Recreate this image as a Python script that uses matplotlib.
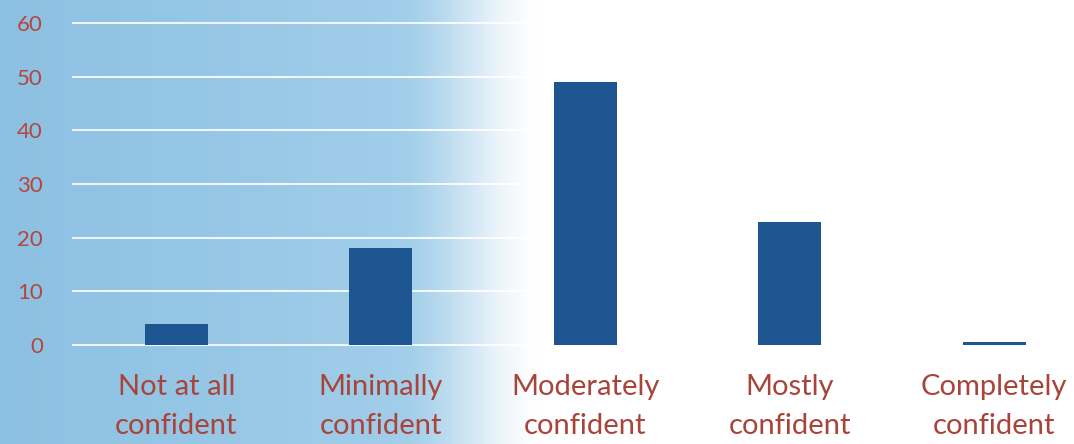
import numpy as np
import matplotlib
matplotlib.use("Agg")
import matplotlib.pyplot as plt

categories = ["Not at all\nconfident", "Minimally\nconfident", "Moderately\nconfident",
              "Mostly\nconfident", "Completely\nconfident"]
values = [4, 18, 49, 23, 0.6]
yticks = [0, 10, 20, 30, 40, 50, 60]

W, H = 1074, 444
fig = plt.figure(figsize=(W / 100, H / 100), dpi=100)

# background gradient (blue on left fading to white)
bg = fig.add_axes([0, 0, 1, 1], zorder=-1)
bg.set_axis_off()
xs = np.arange(W)
t = np.clip((xs - 390) / (545 - 390), 0, 1)
t = t * t * (3 - 2 * t)
left = np.array([140, 192, 226]) / 255
mid = np.array([160, 205, 233]) / 255
base = left[None, :] + (mid - left)[None, :] * np.clip(xs / 390, 0, 1)[:, None]
col = base * (1 - t[:, None]) + np.ones(3)[None, :] * t[:, None]
img = np.repeat(col[None, :, :], 10, axis=0)
bg.imshow(img, aspect="auto", extent=[0, 1, 0, 1])

# main axes
ax_left = 72 / W
ax_right = 1.0
ax_bottom = 1 - 350.4 / H
ax_top = 1 - 17.6 / H
ax = fig.add_axes([ax_left, ax_bottom, ax_right - ax_left, ax_top - ax_bottom])
ax.set_facecolor("none")

x = np.arange(len(categories))
ax.bar(x, values, width=0.31, color="#1d5590", zorder=3)

ax.set_xlim(-0.51, 4.39)
ax.set_ylim(-1, 61)
ax.set_yticks(yticks)
ax.set_yticklabels([str(v) for v in yticks])
ax.set_xticks(x)
ax.set_xticklabels(categories, linespacing=1.6)

for s in ax.spines.values():
    s.set_visible(False)
ax.tick_params(axis="both", length=0)
ax.tick_params(axis="y", pad=21, labelsize=16, labelcolor="#b4463b")
ax.tick_params(axis="x", pad=17, labelsize=21, labelcolor="#a8443a")
for lab in ax.get_xticklabels() + ax.get_yticklabels():
    lab.set_fontfamily("Lato")

ax.yaxis.grid(True, color="white", linewidth=1.5, alpha=0.85, zorder=1)
ax.set_axisbelow(True)

fig.savefig("out.png", dpi=100)
